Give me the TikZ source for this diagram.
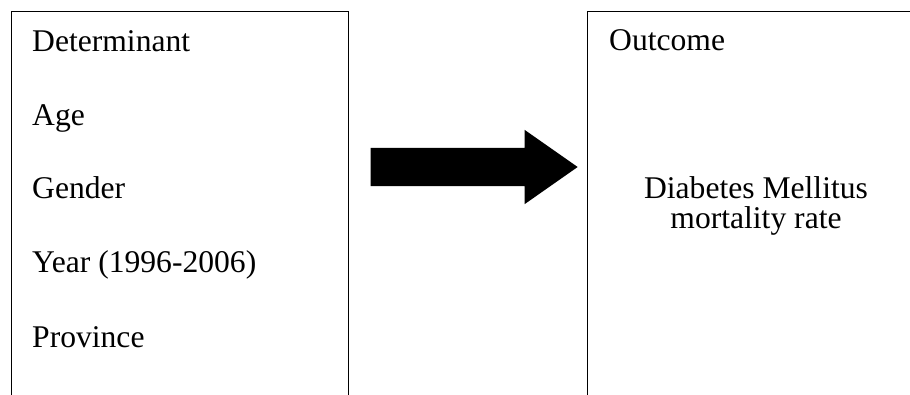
\documentclass[tikz,border=0pt]{standalone}
\usepackage{fontspec}
\setmainfont{Liberation Serif}
\usetikzlibrary{shapes.arrows}

\begin{document}
\begin{tikzpicture}[
  x=1bp, y=-1bp,
  frame/.style={rectangle, draw=black, line width=1bp, inner sep=0pt},
  item/.style={anchor=base west, inner sep=0pt, font=\fontsize{31.6bp}{29.5bp}\selectfont},
  bigarrow/.style={single arrow, fill=black, draw=none, inner xsep=0pt, inner ysep=19bp, minimum height=207bp, single arrow head extend=18bp, single arrow tip angle=70}
]
\useasboundingbox (0,0) rectangle (910,394);
\clip (0,0) rectangle (910,394);

\node[frame, minimum width=336bp, minimum height=419bp] (detbox) at (180,220.5) {};
\node[frame, minimum width=343bp, minimum height=418.5bp] (outbox) at (758.5,220.75) {};

\node[item] (det) at (32,51.7) {Determinant};
\node[item] (age) at (32,125) {Age};
\node[item] (gender) at (32,198.5) {Gender};
\node[item] (year) at (32,272) {Year (1996-2006)};
\node[item] (prov) at (32,347) {Province};

\node[item] (outc) at (609,50.7) {Outcome};
\node[item, anchor=base, align=center] (dm) at (756,228) {Diabetes Mellitus\\mortality rate};

\node[bigarrow, anchor=tip] (link) at (578,167) {};
\end{tikzpicture}
\end{document}
